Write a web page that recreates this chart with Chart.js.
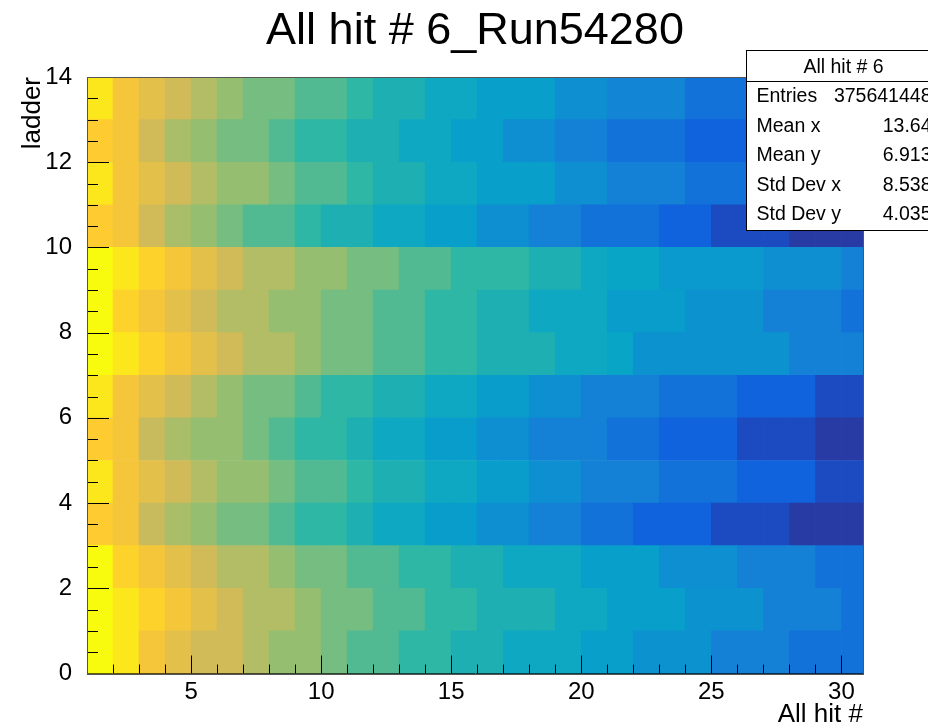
<!DOCTYPE html>
<html>
<head>
<meta charset="utf-8">
<script src="https://cdn.jsdelivr.net/npm/chart.js@4.4.1/dist/chart.umd.min.js"></script>
<style>
  html, body { margin: 0; padding: 0; background: #fff; }
  #wrap { width: 928px; height: 725px; }
</style>
</head>
<body>
<div id="wrap"><canvas id="chart" width="928" height="725"></canvas></div>
<script>
// lower edges of the "All hit #" bins (width 1)
const hitBins = [1, 2, 3, 4, 5, 6, 7, 8, 9, 10, 11, 12, 13, 14, 15, 16, 17, 18, 19, 20,
  21, 22, 23, 24, 25, 26, 27, 28, 29, 30];
// lower edges of the ladder bins
const ladders = [0, 1, 2, 3, 4, 5, 6, 7, 8, 9, 10, 11, 12, 13];

// hits per cell (x 1e4), one array per ladder, hit bins 1..30
const ladder0 = [150, 144, 132, 126, 120, 120, 114, 108, 108, 102, 96, 96, 90, 90, 84, 84, 78, 78, 78, 73, 73, 68, 68, 68, 60, 60, 60, 54, 54, 54];
const ladder1 = [150, 144, 138, 132, 126, 120, 114, 114, 108, 102, 102, 96, 96, 90, 90, 84, 84, 84, 78, 78, 73, 73, 73, 68, 68, 68, 60, 60, 60, 54];
const ladder2 = [150, 138, 132, 126, 120, 114, 114, 108, 102, 102, 96, 96, 90, 90, 84, 84, 78, 78, 78, 73, 73, 73, 66, 66, 66, 60, 60, 60, 54, 54];
const ladder3 = [136, 132, 118, 112, 108, 102, 102, 96, 90, 90, 84, 78, 78, 72, 72, 66, 66, 60, 60, 54, 54, 48, 48, 48, 40, 40, 40, 35, 35, 35];
const ladder4 = [144, 132, 126, 120, 114, 108, 108, 102, 96, 96, 90, 84, 84, 78, 78, 72, 72, 66, 66, 60, 60, 60, 54, 54, 54, 48, 48, 48, 40, 40];
const ladder5 = [136, 132, 118, 112, 108, 108, 102, 96, 90, 90, 84, 78, 78, 72, 72, 66, 66, 60, 60, 60, 54, 54, 48, 48, 48, 40, 40, 40, 35, 35];
const ladder6 = [144, 132, 126, 120, 114, 108, 102, 102, 96, 90, 90, 84, 84, 78, 78, 72, 72, 66, 66, 60, 60, 60, 54, 54, 54, 48, 48, 48, 40, 40];
const ladder7 = [150, 144, 138, 132, 126, 120, 114, 114, 108, 102, 102, 96, 96, 90, 90, 84, 84, 84, 78, 78, 76, 68, 68, 68, 68, 68, 68, 60, 60, 60];
const ladder8 = [150, 138, 132, 126, 120, 114, 114, 108, 108, 102, 102, 96, 96, 90, 90, 84, 84, 78, 78, 78, 72, 72, 72, 68, 68, 68, 60, 60, 60, 54];
const ladder9 = [150, 144, 138, 132, 126, 120, 114, 114, 108, 108, 102, 102, 96, 96, 90, 90, 90, 84, 84, 78, 76, 76, 71, 71, 71, 71, 66, 66, 66, 60];
const ladder10 = [136, 132, 120, 112, 108, 102, 96, 96, 90, 84, 84, 78, 78, 73, 73, 66, 66, 60, 60, 54, 54, 54, 48, 48, 40, 40, 40, 35, 35, 35];
const ladder11 = [144, 132, 126, 120, 114, 108, 108, 102, 96, 96, 90, 84, 84, 78, 78, 73, 73, 73, 66, 66, 60, 60, 60, 54, 54, 54, 48, 48, 42, 42];
const ladder12 = [136, 132, 120, 112, 108, 102, 102, 96, 90, 90, 84, 84, 78, 78, 73, 73, 66, 66, 60, 60, 54, 54, 54, 48, 48, 48, 42, 42, 36, 36];
const ladder13 = [144, 132, 126, 120, 114, 108, 102, 102, 96, 96, 90, 84, 84, 78, 78, 73, 73, 73, 66, 66, 62, 62, 62, 54, 54, 54, 48, 48, 42, 42];

const xTicks = [5, 10, 15, 20, 25, 30];
const yTicks = [0, 2, 4, 6, 8, 10, 12, 14];

const statLabels = ['Entries', 'Mean x', 'Mean y', 'Std Dev x', 'Std Dev y'];
const statValues = ['375641448', '13.64', '6.913', '8.538', '4.035'];

// colour range of the z axis (x 1e4 hits)
const zMin = 30;
const zMax = 150;

const FONT = '"Liberation Sans", Arial, Helvetica, sans-serif';

// ROOT kBird palette
const birdR = [0.2082, 0.0592, 0.0780, 0.0232, 0.1802, 0.5301, 0.8186, 0.9956, 0.9764];
const birdG = [0.1664, 0.3599, 0.5041, 0.6419, 0.7178, 0.7492, 0.7328, 0.7862, 0.9832];
const birdB = [0.5293, 0.8684, 0.8385, 0.7914, 0.6425, 0.4662, 0.3499, 0.1968, 0.0539];

function birdColor(v) {
  let t = (v - zMin) / (zMax - zMin);
  t = Math.max(0, Math.min(1, t));
  const i = Math.min(7, Math.floor(t * 8));
  const f = t * 8 - i;
  const c = a => Math.round(255 * (a[i] + (a[i + 1] - a[i]) * f));
  return 'rgb(' + c(birdR) + ',' + c(birdG) + ',' + c(birdB) + ')';
}

const rows = [ladder0, ladder1, ladder2, ladder3, ladder4, ladder5, ladder6,
  ladder7, ladder8, ladder9, ladder10, ladder11, ladder12, ladder13];

const datasets = rows.map((row, j) => ({
  label: 'ladder ' + ladders[j],
  data: row.map((v, i) => ({ x: hitBins[i] + 0.5, y: [ladders[j], ladders[j] + 1], hits: v })),
  backgroundColor: row.map(birdColor),
  borderWidth: 0,
  barPercentage: 1,
  categoryPercentage: 1,
  grouped: false
}));

// ROOT style frame with ticks pointing inside
const frameTicks = {
  id: 'frameTicks',
  afterDatasetsDraw(chart) {
    const { ctx, chartArea: a, scales: { x, y } } = chart;
    ctx.save();
    ctx.strokeStyle = '#000';
    ctx.lineWidth = 1;
    ctx.beginPath();
    for (let v = 2; v <= 30; v++) {
      const px = Math.round(x.getPixelForValue(v)) + 0.5;
      const len = v % 5 === 0 ? 18 : 9;
      ctx.moveTo(px, a.bottom);
      ctx.lineTo(px, a.bottom - len);
    }
    for (let v = 0.5; v < 14; v += 0.5) {
      const py = Math.round(y.getPixelForValue(v)) + 0.5;
      const len = v % 2 === 0 ? 22 : 11;
      ctx.moveTo(a.left, py);
      ctx.lineTo(a.left + len, py);
    }
    ctx.stroke();
    ctx.strokeStyle = '#555';
    ctx.strokeRect(Math.round(a.left) + 0.5, Math.round(a.top) + 0.5,
      Math.round(a.right - a.left), Math.round(a.bottom - a.top));
    ctx.restore();
  }
};

// statistics box in the upper right corner
const statsBox = {
  id: 'statsBox',
  afterDraw(chart) {
    const ctx = chart.ctx;
    const left = 746.5, top = 50.5, width = 200, height = 180;
    ctx.save();
    ctx.fillStyle = '#fff';
    ctx.fillRect(left, top, width, height);
    ctx.strokeStyle = '#000';
    ctx.lineWidth = 1;
    ctx.strokeRect(left, top, width, height);
    ctx.beginPath();
    ctx.moveTo(left, 81.5);
    ctx.lineTo(left + width, 81.5);
    ctx.stroke();
    ctx.fillStyle = '#000';
    ctx.font = '19.5px ' + FONT;
    ctx.textBaseline = 'alphabetic';
    ctx.textAlign = 'center';
    ctx.fillText('All hit # 6', 843.5, 73);
    const baselines = [101.5, 131.5, 161, 190.5, 220];
    statLabels.forEach((lab, k) => {
      ctx.textAlign = 'left';
      ctx.fillText(lab, 756.5, baselines[k]);
      ctx.textAlign = 'right';
      ctx.fillText(statValues[k], 931.5, baselines[k]);
    });
    ctx.restore();
  }
};

new Chart(document.getElementById('chart'), {
  type: 'bar',
  data: { datasets },
  options: {
    responsive: false,
    animation: false,
    layout: { padding: { left: 0, right: 65, top: 0, bottom: 0 } },
    plugins: {
      legend: { display: false },
      tooltip: { enabled: false },
      title: {
        display: true,
        fullSize: false,
        text: 'All hit # 6_Run54280',
        color: '#000',
        font: { family: FONT, size: 45, weight: 'normal' },
        padding: { top: 5, bottom: 18 }
      }
    },
    scales: {
      x: {
        type: 'linear',
        min: 1,
        max: 30.83,
        offset: false,
        grid: { display: false },
        border: { display: true, color: '#000', width: 1 },
        afterBuildTicks: s => { s.ticks = xTicks.map(v => ({ value: v })); },
        afterFit: s => { s.height = 51.5; },
        ticks: {
          color: '#000', font: { family: FONT, size: 24 }, padding: -4,
          maxRotation: 0, autoSkip: false
        },
        title: {
          display: true, text: 'All hit #', align: 'end', color: '#000',
          font: { family: FONT, size: 26, lineHeight: 0.8 }, padding: 0
        }
      },
      y: {
        type: 'linear',
        min: 0,
        max: 14,
        grid: { display: false },
        border: { display: true, color: '#000', width: 1 },
        afterBuildTicks: s => { s.ticks = yTicks.map(v => ({ value: v })); },
        afterFit: s => { s.width = 87; },
        ticks: { color: '#000', font: { family: FONT, size: 24 }, padding: 7, autoSkip: false },
        title: {
          display: true, text: 'ladder', align: 'end', color: '#000',
          font: { family: FONT, size: 26 }, padding: { top: 17, bottom: 0 }
        }
      }
    }
  },
  plugins: [frameTicks, statsBox]
});
</script>
</body>
</html>
